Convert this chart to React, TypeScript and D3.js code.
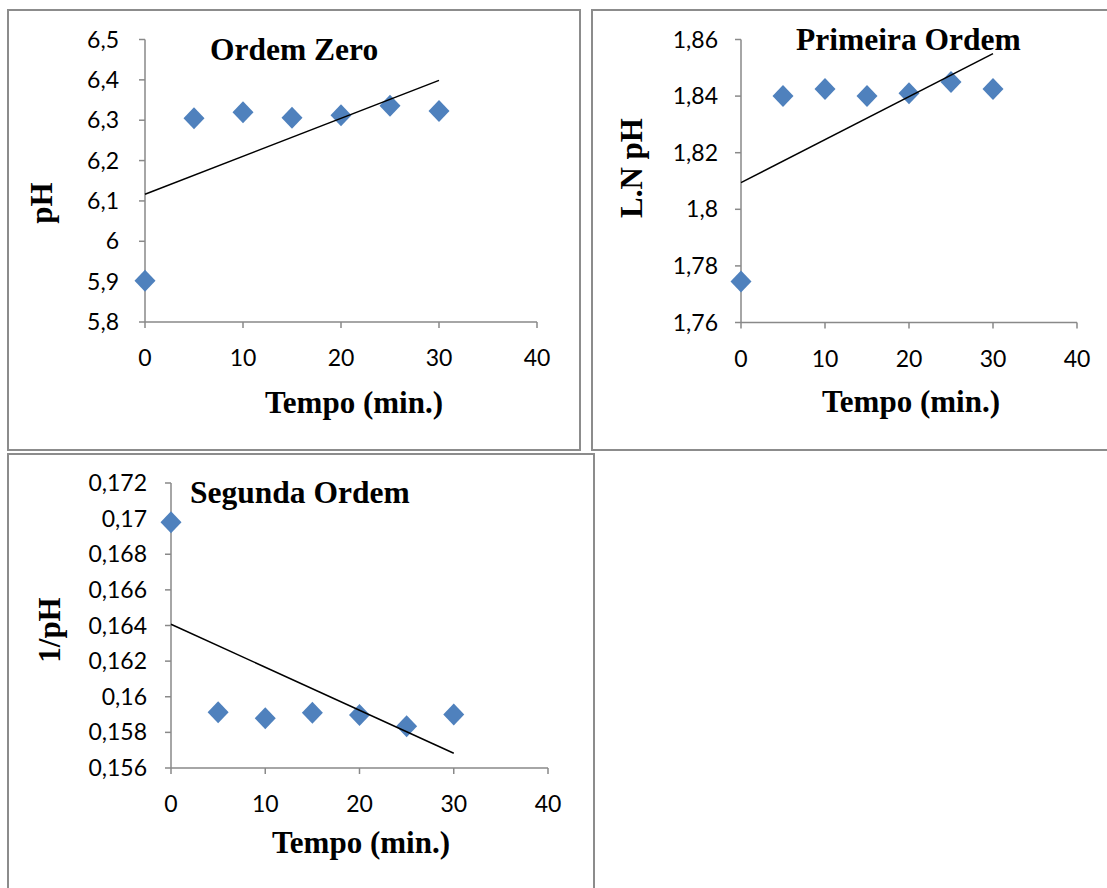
import React from "react";
import * as d3 from "d3";

const times = [0, 5, 10, 15, 20, 25, 30];
const phValues = [5.902, 6.305, 6.32, 6.306, 6.312, 6.336, 6.323];
const lnPhValues = [1.7745, 1.84, 1.8425, 1.84, 1.841, 1.845, 1.8425];
const invPhValues = [0.1698, 0.15913, 0.1588, 0.1591, 0.15897, 0.15835, 0.159];

const xTicks = [0, 10, 20, 30, 40];
const phTicks = [5.8, 5.9, 6.0, 6.1, 6.2, 6.3, 6.4, 6.5];
const lnTicks = [1.76, 1.78, 1.8, 1.82, 1.84, 1.86];
const invTicks = [0.156, 0.158, 0.16, 0.162, 0.164, 0.166, 0.168, 0.17, 0.172];

const titles = ["Ordem Zero", "Primeira Ordem", "Segunda Ordem"];
const yLabels = ["pH", "L.N pH", "1/pH"];
const xLabel = "Tempo (min.)";

const fmt = (v: number) => String(+v.toFixed(4)).replace(".", ",");

type Panel = {
  box: [number, number, number, number];
  xr: [number, number];
  yr: [number, number];
  yDomain: [number, number];
  values: number[];
  yTicks: number[];
  title: string;
  titleX: number;
  titleY: number;
  yLabel: string;
  yLabelX: number;
  yLabelY: number;
  xLabelX: number;
  xLabelY: number;
  tickGap: number;
};

const panels: Panel[] = [
  {
    box: [8, 10, 580, 450],
    xr: [145, 537],
    yr: [322, 39.5],
    yDomain: [5.8, 6.5],
    values: phValues,
    yTicks: phTicks,
    title: titles[0],
    titleX: 210,
    titleY: 60,
    yLabel: yLabels[0],
    yLabelX: 52,
    yLabelY: 203,
    xLabelX: 354,
    xLabelY: 413,
    tickGap: 26,
  },
  {
    box: [592, 10, 1112, 450],
    xr: [741, 1077],
    yr: [322.5, 39.5],
    yDomain: [1.76, 1.86],
    values: lnPhValues,
    yTicks: lnTicks,
    title: titles[1],
    titleX: 796,
    titleY: 50,
    yLabel: yLabels[1],
    yLabelX: 642,
    yLabelY: 168,
    xLabelX: 911,
    xLabelY: 412,
    tickGap: 23,
  },
  {
    box: [8, 454, 594, 895],
    xr: [171, 548],
    yr: [768, 483],
    yDomain: [0.156, 0.172],
    values: invPhValues,
    yTicks: invTicks,
    title: titles[2],
    titleX: 190,
    titleY: 503,
    yLabel: yLabels[2],
    yLabelX: 60,
    yLabelY: 630,
    xLabelX: 361,
    xLabelY: 853,
    tickGap: 24,
  },
];

function regression(xs: number[], ys: number[]) {
  const mx = d3.mean(xs) as number;
  const my = d3.mean(ys) as number;
  let sxy = 0;
  let sxx = 0;
  xs.forEach((x, i) => {
    sxy += (x - mx) * (ys[i] - my);
    sxx += (x - mx) * (x - mx);
  });
  const slope = sxy / sxx;
  return { slope, intercept: my - slope * mx };
}

const AXIS = "#898989";
const BLUE = "#4F81BD";
const SANS = "Lato, Carlito, Calibri, sans-serif";
const SERIF = "'Liberation Serif', 'Times New Roman', serif";
const TICK_FS = 23;

function PanelView({ p }: { p: Panel }) {
  const x = d3.scaleLinear().domain([0, 40]).range(p.xr);
  const y = d3.scaleLinear().domain(p.yDomain).range(p.yr);
  const reg = regression(times, p.values);
  const lineGen = d3
    .line<number>()
    .x((t) => x(t))
    .y((t) => y(reg.intercept + reg.slope * t));
  const [bx0, by0, bx1, by1] = p.box;
  const diamond = (cx: number, cy: number) =>
    `M${cx},${cy - 11}L${cx + 10.5},${cy}L${cx},${cy + 11}L${cx - 10.5},${cy}Z`;
  return (
    <g>
      <rect x={bx0} y={by0} width={bx1 - bx0} height={by1 - by0} fill="#fff" stroke="#8c8c8c" strokeWidth={2} />
      <line x1={x(0)} x2={x(0)} y1={y(p.yDomain[0])} y2={y(p.yDomain[1])} stroke={AXIS} strokeWidth={1.5} />
      {p.yTicks.map((t) => (
        <g key={"y" + t}>
          <line x1={x(0) - 6} x2={x(0)} y1={y(t)} y2={y(t)} stroke={AXIS} strokeWidth={1.5} />
          <text x={x(0) - p.tickGap} y={y(t)} dy="0.35em" textAnchor="end" fontFamily={SANS} fontSize={TICK_FS} fill="#000">
            {fmt(t)}
          </text>
        </g>
      ))}
      <line x1={x(0)} x2={x(40)} y1={y(p.yDomain[0])} y2={y(p.yDomain[0])} stroke={AXIS} strokeWidth={1.5} />
      {xTicks.map((t) => (
        <g key={"x" + t}>
          <line x1={x(t)} x2={x(t)} y1={y(p.yDomain[0])} y2={y(p.yDomain[0]) + 6} stroke={AXIS} strokeWidth={1.5} />
          <text x={x(t)} y={y(p.yDomain[0]) + 36} dy="0.35em" textAnchor="middle" fontFamily={SANS} fontSize={TICK_FS} fill="#000">
            {t}
          </text>
        </g>
      ))}
      {times.map((t, i) => (
        <path key={"m" + i} d={diamond(x(t), y(p.values[i]))} fill={BLUE} />
      ))}
      <path d={lineGen([0, 30]) as string} stroke="#000" strokeWidth={1.5} fill="none" />
      <text x={p.titleX} y={p.titleY} fontFamily={SERIF} fontWeight="bold" fontSize={31.5} fill="#000">
        {p.title}
      </text>
      <text x={p.xLabelX} y={p.xLabelY} textAnchor="middle" fontFamily={SERIF} fontWeight="bold" fontSize={31} fill="#000">
        {xLabel}
      </text>
      <text
        transform={`translate(${p.yLabelX},${p.yLabelY}) rotate(-90)`}
        textAnchor="middle"
        fontFamily={SERIF}
        fontWeight="bold"
        fontSize={31}
        fill="#000"
      >
        {p.yLabel}
      </text>
    </g>
  );
}

export default function App() {
  return (
    <svg
      width={1107}
      height={888}
      style={{ position: "absolute", left: 0, top: 0, display: "block", background: "#fff" }}
    >
      <rect x={0} y={0} width={1107} height={888} fill="#fff" />
      {panels.map((p, i) => (
        <PanelView key={i} p={p} />
      ))}
    </svg>
  );
}
